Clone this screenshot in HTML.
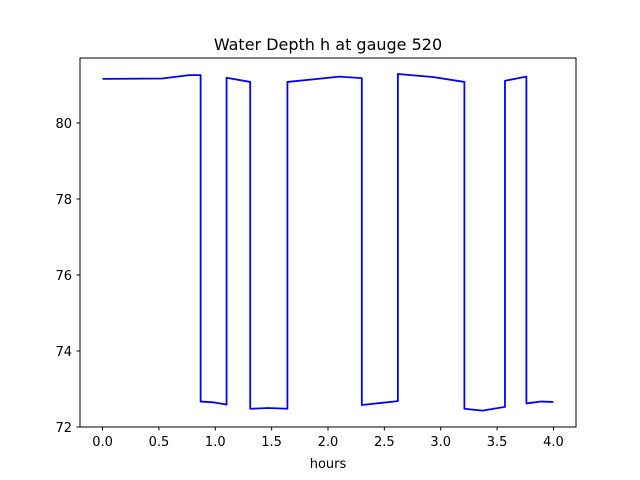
<!DOCTYPE html>
<html><head><meta charset="utf-8"><style>
body{margin:0;background:#fff;}
svg{display:block;font-family:"DejaVu Sans","Liberation Sans",sans-serif;}
</style></head><body>
<svg id="chart" width="640" height="480" viewBox="0 0 640 480">
<rect x="0" y="0" width="640" height="480" fill="#fff"/>
<text x="328" y="50" font-size="16" text-anchor="middle">Water Depth h at gauge 520</text>
<g id="xt"></g>
<g id="yt"></g>
<path id="line" fill="none" stroke="#0000ff" stroke-width="1.8" stroke-linejoin="round"/>
<rect x="80" y="58" width="496" height="369" fill="none" stroke="#000" stroke-width="1"/>
<text x="328" y="468" font-size="13" text-anchor="middle">hours</text>
</svg>
<script>
const hours = [0,0.53,0.77,0.87,0.87,0.98,1.10,1.10,1.31,1.31,1.47,1.64,1.64,1.91,2.10,2.30,2.30,2.62,2.62,2.93,3.21,3.21,3.37,3.57,3.57,3.76,3.76,3.89,4.0];
const depth = [81.16,81.17,81.26,81.26,72.67,72.65,72.59,81.19,81.08,72.48,72.50,72.48,81.08,81.16,81.22,81.18,72.58,72.68,81.29,81.21,81.08,72.48,72.43,72.53,81.11,81.22,72.62,72.67,72.66];
const xTicks = [0,0.5,1,1.5,2,2.5,3,3.5,4];
const yTicks = [72,74,76,78,80];
const X0=80,X1=576,Y0=427,Y1=58,xmin=-0.2,xmax=4.2,ymin=72.0,ymax=81.71;
const sx=v=>X0+(v-xmin)/(xmax-xmin)*(X1-X0);
const sy=v=>Y0-(v-ymin)/(ymax-ymin)*(Y0-Y1);
const NS="http://www.w3.org/2000/svg";
let d="";
hours.forEach((h,i)=>{d+=(i?"L":"M")+sx(h).toFixed(2)+","+sy(depth[i]).toFixed(2);});
document.getElementById("line").setAttribute("d",d);
const xt=document.getElementById("xt"),yt=document.getElementById("yt");
xTicks.forEach(t=>{
  const x=sx(t);
  const l=document.createElementNS(NS,"line");
  l.setAttribute("x1",x);l.setAttribute("x2",x);l.setAttribute("y1",427);l.setAttribute("y2",430.5);l.setAttribute("stroke","#000");
  
  
  xt.appendChild(l);
  const tx=document.createElementNS(NS,"text");
  tx.setAttribute("x",x);tx.setAttribute("y",446);tx.setAttribute("font-size","13");tx.setAttribute("text-anchor","middle");
  tx.textContent=t.toFixed(1);
  
  
  xt.appendChild(tx);
});
yTicks.forEach(t=>{
  const y=sy(t);
  const l=document.createElementNS(NS,"line");
  l.setAttribute("x1",76.5);l.setAttribute("x2",80);l.setAttribute("y1",y);l.setAttribute("y2",y);l.setAttribute("stroke","#000");
  
  
  yt.appendChild(l);
  const tx=document.createElementNS(NS,"text");
  tx.setAttribute("x",72);tx.setAttribute("y",y+5);tx.setAttribute("font-size","13");tx.setAttribute("text-anchor","end");
  tx.textContent=String(t);
  
  
  yt.appendChild(tx);
});
</script>
</body></html>
